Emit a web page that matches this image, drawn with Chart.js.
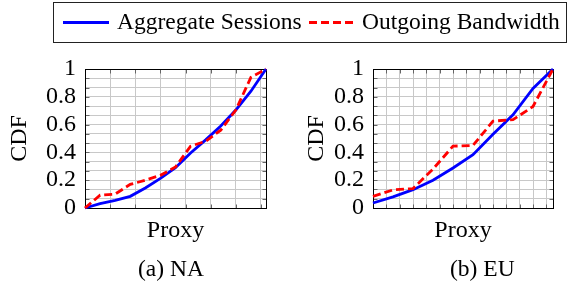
<!DOCTYPE html>
<html>
<head>
<meta charset="utf-8">
<script src="https://cdn.jsdelivr.net/npm/chart.js@4.4.0/dist/chart.umd.min.js"></script>
<style>
body { margin: 0; background: #fff; }
#page { position: relative; width: 574px; height: 283px; overflow: hidden;
        font-family: "Liberation Serif", "Times New Roman", serif; color: #000; }
canvas { position: absolute; top: 0; }
.legend-box { position: absolute; left: 53px; top: 2px; width: 512px; height: 39px; border: 1px solid #222; }
.legend-line { position: absolute; top: 21px; width: 46px; height: 3px; }
.legend-text, .caption { position: absolute; font-size: 23.5px; line-height: 24px; white-space: nowrap; }
.legend-text { top: 9px; }
.caption { top: 256px; }
</style>
</head>
<body>
<div id="page">
  <canvas id="naChart" width="290" height="283" style="left:0px"></canvas>
  <canvas id="euChart" width="284" height="283" style="left:290px"></canvas>

  <div class="legend-box"></div>
  <div class="legend-line" style="left:63px; background:#0000ff"></div>
  <div class="legend-text" id="leg0" style="left:117px"></div>
  <div class="legend-line" style="left:309px; width:45px; background:repeating-linear-gradient(to right, #ff0000 0 8px, transparent 8px 12px)"></div>
  <div class="legend-text" id="leg1" style="left:362px"></div>

  <div class="caption" id="capNA" style="left:138px"></div>
  <div class="caption" id="capEU" style="left:450px"></div>
</div>
<script>
// values (CDF per proxy, proxies sorted)
var seriesNames = ['Aggregate Sessions', 'Outgoing Bandwidth'];
var captions = ['(a) NA', '(b) EU'];
var cdfTicks = ['0', '0.2', '0.4', '0.6', '0.8', '1'];

var naProxy = [0, 1, 2, 3, 4, 5, 6, 7, 8, 9, 10, 11, 12];
var naSessions = [0, 0.031, 0.055, 0.084, 0.144, 0.213, 0.29, 0.396, 0.49, 0.59, 0.705, 0.84, 1];
var naBandwidth = [0, 0.093, 0.1, 0.17, 0.2, 0.235, 0.295, 0.445, 0.48, 0.56, 0.705, 0.94, 1];

var euProxy = [0, 1, 2, 3, 4, 5, 6, 7, 8, 9];
var euSessions = [0.036, 0.08, 0.132, 0.2, 0.288, 0.384, 0.53, 0.67, 0.86, 1];
var euBandwidth = [0.084, 0.13, 0.14, 0.28, 0.445, 0.45, 0.625, 0.635, 0.73, 1];

var fontFamily = '"Liberation Serif", "Times New Roman", serif';

document.getElementById('leg0').textContent = seriesNames[0];
document.getElementById('leg1').textContent = seriesNames[1];
document.getElementById('capNA').textContent = captions[0];
document.getElementById('capEU').textContent = captions[1];

// y grid: 0.2 major steps, two minor lines between
var yGrid = [];
for (var k = 0; k <= 15; k++) yGrid.push(k / 15);

function xGridFor(max, step) {
    var g = [];
    for (var v = 0; v < max - 0.01; v += step) g.push(v);
    g.push(max);
    return g;
}

function toPoints(xs, ys) {
    return xs.map(function(x, i) { return {x: x, y: ys[i]}; });
}

// black frame + little inner tick marks like pgfplots
var framePlugin = {
    id: 'frame',
    beforeDatasetsDraw: function(chart) {
        var a = chart.chartArea;
        var ctx = chart.ctx;
        var l = Math.round(a.left) + 0.5, r = Math.round(a.right) + 0.5;
        var t = Math.round(a.top) + 0.5, b = Math.round(a.bottom) + 0.5;
        ctx.save();
        ctx.lineWidth = 1;
        ctx.strokeStyle = '#666';
        ctx.beginPath();
        chart.scales.y.ticks.forEach(function(tk) {
            var y = Math.round(chart.scales.y.getPixelForValue(tk.value)) + 0.5;
            ctx.moveTo(l, y); ctx.lineTo(l + 4, y);
            ctx.moveTo(r, y); ctx.lineTo(r - 4, y);
        });
        chart.scales.x.ticks.forEach(function(tk) {
            var x = Math.round(chart.scales.x.getPixelForValue(tk.value)) + 0.5;
            ctx.moveTo(x, b); ctx.lineTo(x, b - 4);
            ctx.moveTo(x, t); ctx.lineTo(x, t + 4);
        });
        ctx.stroke();
        ctx.strokeStyle = '#000';
        ctx.strokeRect(l, t, r - l, b - t);
        ctx.restore();
    }
};

function createChart(id, proxy, sessions, bandwidth, xStep, pad, yWidth) {
    var ctx = document.getElementById(id).getContext('2d');
    var xMax = proxy[proxy.length - 1];
    var xGrid = xGridFor(xMax, xStep);
    return new Chart(ctx, {
        type: 'line',
        data: {
            datasets: [{
                label: seriesNames[0],
                data: toPoints(proxy, sessions),
                borderColor: '#0000ff',
                borderWidth: 2.8,
                pointRadius: 0,
                tension: 0,
                clip: false,
                order: 1
            }, {
                label: seriesNames[1],
                data: toPoints(proxy, bandwidth),
                borderColor: '#ff0000',
                borderWidth: 2.8,
                borderDash: [8, 4],
                pointRadius: 0,
                tension: 0,
                clip: false,
                order: 0
            }]
        },
        options: {
            responsive: false,
            animation: false,
            events: [],
            layout: { padding: pad },
            plugins: { legend: { display: false }, tooltip: { enabled: false } },
            scales: {
                x: {
                    type: 'linear',
                    min: 0,
                    max: xMax,
                    afterBuildTicks: function(scale) {
                        scale.ticks = xGrid.map(function(v) { return {value: v}; });
                    },
                    afterFit: function(scale) { scale.height = 35; },
                    ticks: { display: false },
                    grid: { color: '#c8c8c8', lineWidth: 1, drawTicks: false },
                    border: { display: false },
                    title: {
                        display: true,
                        text: 'Proxy',
                        color: '#000',
                        padding: 0,
                        font: { family: fontFamily, size: 24, lineHeight: 1 }
                    }
                },
                y: {
                    min: 0,
                    max: 1,
                    afterBuildTicks: function(scale) {
                        scale.ticks = yGrid.map(function(v) { return {value: v}; });
                    },
                    afterFit: function(scale) { scale.width = yWidth; },
                    ticks: {
                        autoSkip: false,
                        padding: 9,
                        color: '#000',
                        font: { family: fontFamily, size: 24 },
                        callback: function(value, index) {
                            return index % 3 === 0 ? cdfTicks[index / 3] : '';
                        }
                    },
                    grid: { color: '#c8c8c8', lineWidth: 1, drawTicks: false },
                    border: { display: false },
                    title: {
                        display: true,
                        text: 'CDF',
                        color: '#000',
                        padding: 0,
                        font: { family: fontFamily, size: 24, lineHeight: 1 }
                    }
                }
            }
        },
        plugins: [framePlugin]
    });
}

createChart('naChart', naProxy, naSessions, naBandwidth, 5 / 3,
    {left: 8, top: 69, right: 24, bottom: 40}, 77);
createChart('euChart', euProxy, euSessions, euBandwidth, 2 / 3,
    {left: 15, top: 69, right: 21, bottom: 40}, 68);
</script>
</body>
</html>
